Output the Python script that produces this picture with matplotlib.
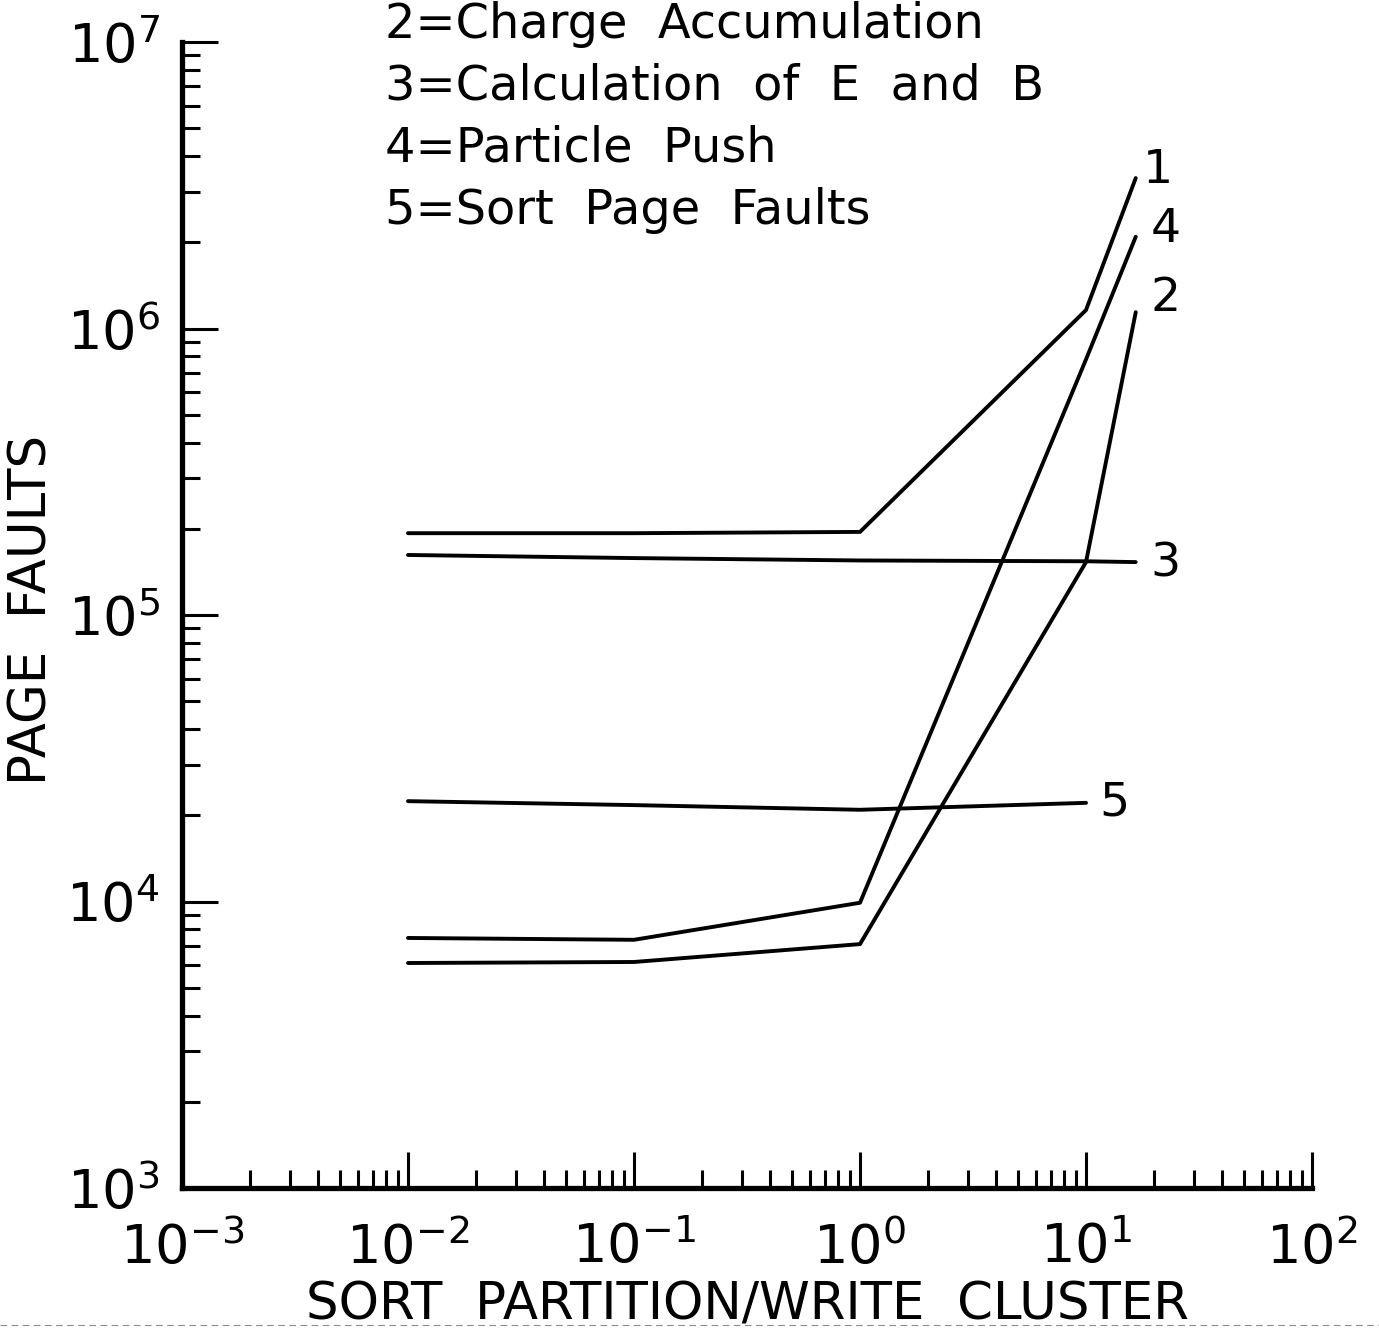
"""
Page faults vs sort partition / write cluster ratio (log-log).
Recreation of a plotter-style figure.
"""

import matplotlib
matplotlib.use('Agg')
import matplotlib.pyplot as plt
from matplotlib.lines import Line2D
from matplotlib.ticker import LogLocator, NullFormatter

# ── Data ───────────────────────────────────────────────────────
x_pts = [0.01, 0.1, 1.0, 10.0, 16.6]
faults_1 = [1.93e5, 1.93e5, 1.95e5, 1.16e6, 3.35e6]   # total
faults_2 = [6.1e3, 6.15e3, 7.1e3, 1.53e5, 1.14e6]     # charge accumulation
faults_3 = [1.62e5, 1.58e5, 1.55e5, 1.54e5, 1.53e5]   # calculation of E and B
faults_4 = [7.46e3, 7.35e3, 9.9e3, 7.8e5, 2.09e6]     # particle push
x_sort = [0.01, 0.1, 1.0, 10.0]
faults_5 = [2.24e4, 2.17e4, 2.09e4, 2.21e4]           # sort page faults

legend_lines = [
    '2=Charge  Accumulation',
    '3=Calculation  of  E  and  B',
    '4=Particle  Push',
    '5=Sort  Page  Faults',
]

# curve label, and label offset from curve end in pixels (dx, dy)
curves = [
    ('1', x_pts, faults_1, (22, 8)),
    ('4', x_pts, faults_4, (30, 7)),
    ('2', x_pts, faults_2, (30, 14)),
    ('3', x_pts, faults_3, (30, -2)),
    ('5', x_sort, faults_5, (28, 0)),
]

FONT = 'DejaVu Sans'
plt.rcParams['font.family'] = FONT
plt.rcParams['mathtext.fontset'] = 'dejavusans'

DPI = 100
W, H = 1379, 1334
fig = plt.figure(figsize=(W / DPI, H / DPI), dpi=DPI)
fig.patch.set_facecolor('white')
ax = fig.add_axes([182 / W, 1 - 1188 / H,
                   (1312 - 182) / W, (1188 - 42) / H])

# ── Curves ────────────────────────────────────────────────────
px2pt = 72.0 / DPI
for label, xs, ys, (dx, dy) in curves:
    ax.plot(xs, ys, color='black', linewidth=2.8, solid_capstyle='round')
    ax.annotate(label, xy=(xs[-1], ys[-1]),
                xytext=(dx * px2pt, dy * px2pt), textcoords='offset points',
                ha='center', va='center', fontsize=34, color='black')

# ── Axes styling ──────────────────────────────────────────────
ax.set_xscale('log')
ax.set_yscale('log')
ax.set_xlim(1e-3, 1e2)
ax.set_ylim(1e3, 1e7)

ax.xaxis.set_major_locator(LogLocator(base=10, numticks=10))
ax.yaxis.set_major_locator(LogLocator(base=10, numticks=10))
ax.xaxis.set_minor_locator(LogLocator(base=10, subs=range(2, 10), numticks=100))
ax.yaxis.set_minor_locator(LogLocator(base=10, subs=range(2, 10), numticks=100))
ax.xaxis.set_minor_formatter(NullFormatter())
ax.yaxis.set_minor_formatter(NullFormatter())

for side in ('top', 'right'):
    ax.spines[side].set_visible(False)
for side in ('left', 'bottom'):
    ax.spines[side].set_linewidth(3.8)

ax.tick_params(which='major', direction='in', length=26, width=2.2,
               labelsize=39, pad=16)
ax.tick_params(which='minor', direction='in', length=13, width=2.2)
ax.tick_params(axis='x', which='major', pad=24)

ax.set_xlabel('SORT  PARTITION/WRITE  CLUSTER', fontsize=37)
ax.xaxis.set_label_coords(0.5, (1188 - 1305) / (1188 - 42))
ax.xaxis.label.set_va('center')

# y label placed in figure coords so it is not clipped at the left edge
fig.text(33 / W, 1 - 610 / H, 'PAGE  FAULTS', rotation=90,
         fontsize=37, ha='center', va='center')

# ── Key text at top ───────────────────────────────────────────
for i, line in enumerate(legend_lines):
    fig.text(385 / W, 1 - (38 + 62 * i) / H, line,
             fontsize=34.5, ha='left', va='baseline')

# faint scan fold line across the bottom
fig.add_artist(Line2D([0, 1], [1 - 1325 / H] * 2, color='0.55',
                      linewidth=0.8, linestyle=(0, (6, 4)), zorder=0))

fig.savefig('out.png', dpi=DPI, facecolor='white')
